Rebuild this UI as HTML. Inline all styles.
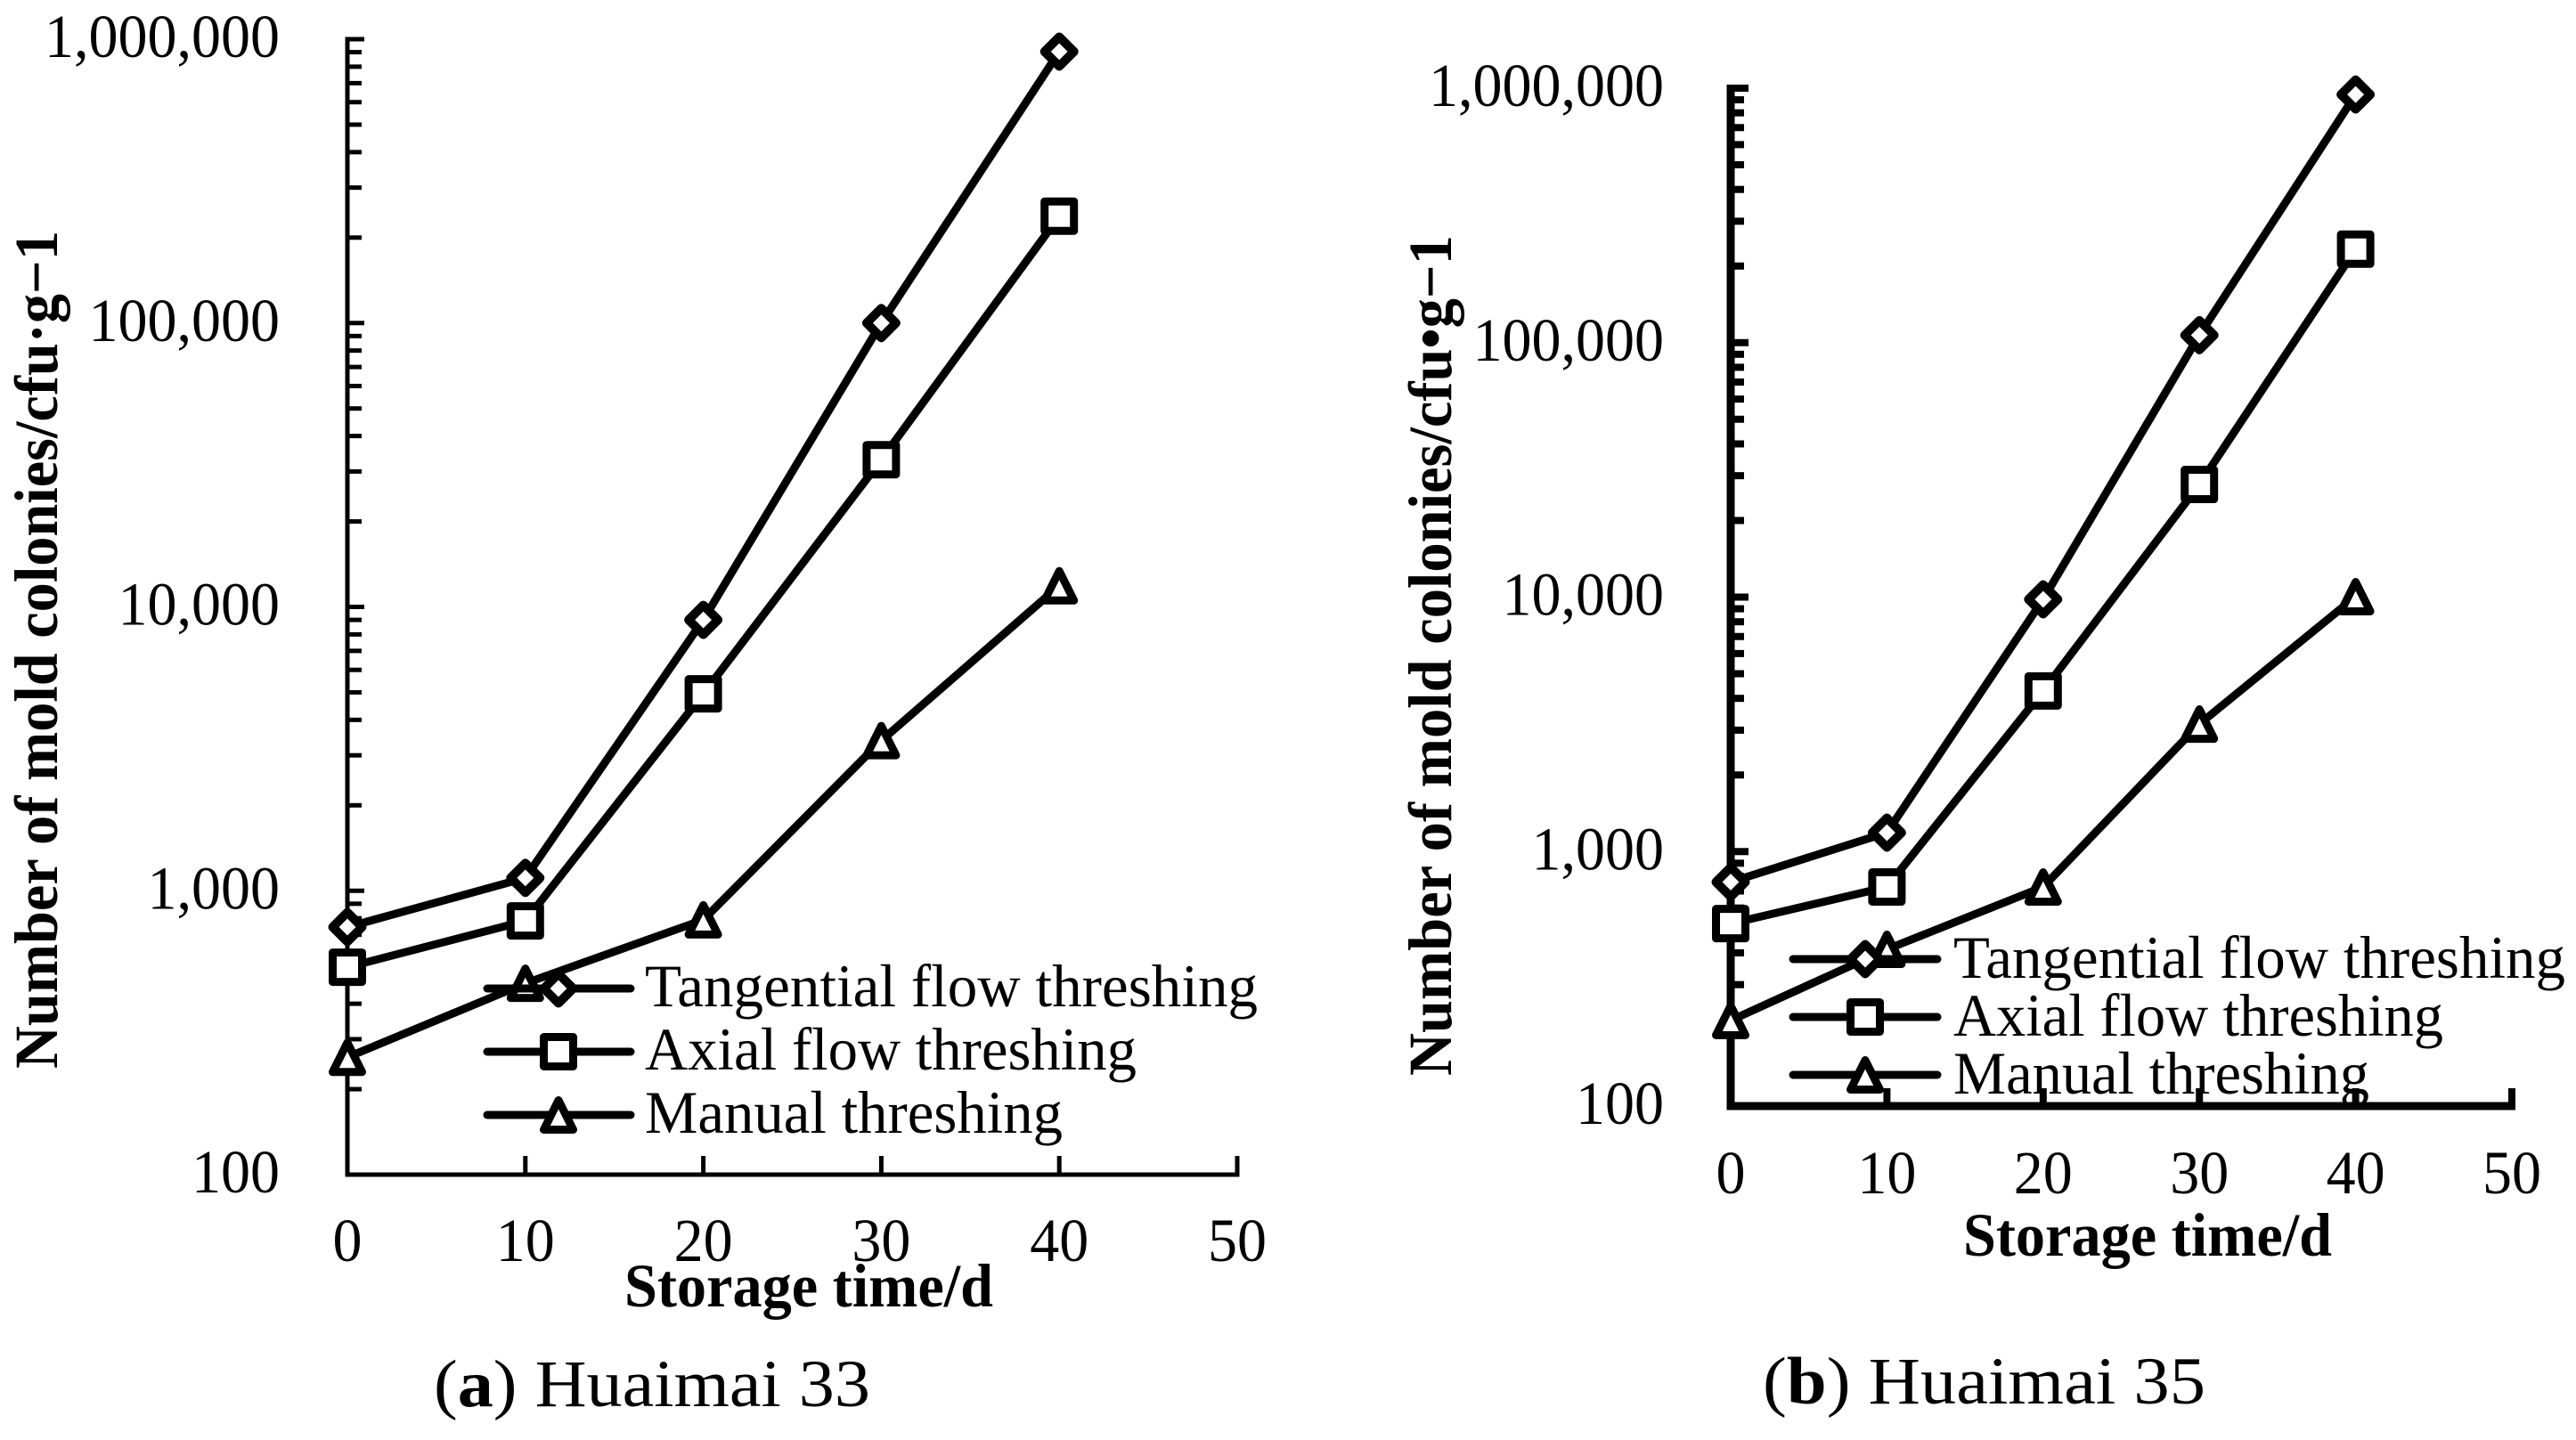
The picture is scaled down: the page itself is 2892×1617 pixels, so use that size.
<!DOCTYPE html>
<html lang="en">
<head>
<meta charset="utf-8">
<title>Mold colonies vs storage time</title>
<style>
html,body{margin:0;padding:0;background:#fff;}
svg{display:block;}
text{font-family:"Liberation Serif",serif;fill:#000;}
.tick{font-size:69px;}
.legend{font-size:68px;}
.title{font-size:69px;font-weight:bold;}
.caption{font-size:75px;}
</style>
</head>
<body>
<svg id="chart" xmlns="http://www.w3.org/2000/svg" width="2892" height="1617" viewBox="0 0 2892 1617">
  <rect width="2892" height="1617" fill="#fff"/>
  <g id="panel-a"></g>
  <g id="panel-b"></g>
  <g id="text-a">
    <text class="title" transform="translate(64,1200) rotate(-90)" textLength="941" lengthAdjust="spacingAndGlyphs">Number of mold colonies/cfu·g−1</text>
    <text class="title" x="701" y="1467" textLength="414" lengthAdjust="spacingAndGlyphs">Storage time/d</text>
    <text class="legend" x="724" y="1130" textLength="688" lengthAdjust="spacingAndGlyphs">Tangential flow threshing</text>
    <text class="legend" x="724" y="1201" textLength="552" lengthAdjust="spacingAndGlyphs">Axial flow threshing</text>
    <text class="legend" x="724" y="1272" textLength="469" lengthAdjust="spacingAndGlyphs">Manual threshing</text>
    <text class="caption" x="487" y="1579" textLength="490" lengthAdjust="spacingAndGlyphs">(<tspan font-weight="bold">a</tspan>) Huaimai 33</text>
  </g>
  <g id="text-b">
    <text class="title" transform="translate(1629,1208) rotate(-90)" textLength="944" lengthAdjust="spacingAndGlyphs">Number of mold colonies/cfu•g−1</text>
    <text class="title" x="2204" y="1410" textLength="414" lengthAdjust="spacingAndGlyphs">Storage time/d</text>
    <text class="legend" x="2193" y="1098" textLength="687" lengthAdjust="spacingAndGlyphs">Tangential flow threshing</text>
    <text class="legend" x="2193" y="1163" textLength="550" lengthAdjust="spacingAndGlyphs">Axial flow threshing</text>
    <text class="legend" x="2193" y="1228" textLength="467" lengthAdjust="spacingAndGlyphs">Manual threshing</text>
    <text class="caption" x="1979" y="1576" textLength="497" lengthAdjust="spacingAndGlyphs">(<tspan font-weight="bold">b</tspan>) Huaimai 35</text>
  </g>
</svg>
<script>
const storageDays = [0, 10, 20, 30, 40];
const xTickValues = [0, 10, 20, 30, 40, 50];
const yTickValues = [100, 1000, 10000, 100000, 1000000];
const yTickLabels = ["100", "1,000", "10,000", "100,000", "1,000,000"];
const minorMultipliers = [2, 3, 4, 5, 6, 7, 8, 9];

const tangentialA = [745, 1110, 9000, 100000, 904000];
const axialA = [538, 783, 4940, 33000, 238000];
const manualA = [259, 472, 790, 3380, 11870];

const tangentialB = [759, 1187, 9800, 107000, 944000];
const axialB = [521, 726, 4280, 27700, 233000];
const manualB = [217, 413, 726, 3170, 10040];

const NS = "http://www.w3.org/2000/svg";
const TICK_EM = 66;

function make(tag, attrs, parent) {
  const node = document.createElementNS(NS, tag);
  for (const k in attrs) node.setAttribute(k, attrs[k]);
  parent.appendChild(node);
  return node;
}

function labelWidth(str) {
  let em = 0;
  for (const ch of str) em += ch === "," ? 0.25 : 0.5;
  return em * TICK_EM;
}

function linearScale(d0, d1, r0, r1) {
  return function (v) { return r0 + (v - d0) / (d1 - d0) * (r1 - r0); };
}

function logScale(d0, d1, r0, r1) {
  return function (v) {
    return r0 + (Math.log10(v) - Math.log10(d0)) / (Math.log10(d1) - Math.log10(d0)) * (r1 - r0);
  };
}

function drawMarker(parent, kind, cx, cy) {
  let shape;
  let stroke = 9;
  if (kind === "diamond") {
    stroke = 10;
    shape = make("path", { d: "M" + cx + " " + (cy - 16.5) + "L" + (cx + 16.5) + " " + cy + "L" + cx + " " + (cy + 16.5) + "L" + (cx - 16.5) + " " + cy + "Z" }, parent);
  } else if (kind === "square") {
    shape = make("rect", { x: cx - 16.5, y: cy - 16.5, width: 33, height: 33 }, parent);
  } else {
    shape = make("path", { d: "M" + cx + " " + (cy - 16.5) + "L" + (cx + 16.5) + " " + (cy + 16.5) + "L" + (cx - 16.5) + " " + (cy + 16.5) + "Z" }, parent);
  }
  shape.setAttribute("fill", "#fff");
  shape.setAttribute("stroke", "#000");
  shape.setAttribute("stroke-width", stroke);
  shape.setAttribute("stroke-linejoin", "round");
  
  
}

function drawPanel(cfg) {
  const root = document.getElementById(cfg.id);
  const xS = linearScale(0, 50, cfg.x0, cfg.x50);
  const yS = logScale(100, 1000000, cfg.y100, cfg.yTop);

  const yAxis = make("line", { x1: cfg.x0, x2: cfg.x0, y1: yS(1000000) - cfg.tickW / 2, y2: yS(100) + cfg.axisW / 2, stroke: "#000", "stroke-width": cfg.axisW }, root);
  
  

  const xAxis = make("line", { x1: cfg.x0, x2: xS(50) + cfg.tickW / 2, y1: yS(100), y2: yS(100), stroke: "#000", "stroke-width": cfg.axisW }, root);
  
  

  yTickValues.forEach(function (v, i) {
    if (i > 0) {
      const major = make("line", { x1: cfg.x0, x2: cfg.x0 + cfg.majorLen, y1: yS(v), y2: yS(v), stroke: "#000", "stroke-width": cfg.tickW }, root);
      
      
    }
    if (i < yTickValues.length - 1) {
      minorMultipliers.forEach(function (m) {
        const minor = make("line", { x1: cfg.x0, x2: cfg.x0 + cfg.minorLen, y1: yS(v * m), y2: yS(v * m), stroke: "#000", "stroke-width": cfg.tickW }, root);
        
        
      });
    }
    const label = make("text", { class: "tick", x: cfg.yLabelX, y: yS(v) + 20, "text-anchor": "end", textLength: labelWidth(yTickLabels[i]), lengthAdjust: "spacingAndGlyphs" }, root);
    label.textContent = yTickLabels[i];
    
    
  });

  xTickValues.forEach(function (v) {
    const tick = make("line", { x1: xS(v), x2: xS(v), y1: yS(100), y2: yS(100) - cfg.xTickLen, stroke: "#000", "stroke-width": cfg.tickW }, root);
    
    
    const label = make("text", { class: "tick", x: xS(v), y: cfg.xLabelY, "text-anchor": "middle", textLength: labelWidth(String(v)), lengthAdjust: "spacingAndGlyphs" }, root);
    label.textContent = String(v);
    
    
  });

  cfg.series.forEach(function (s) {
    const pts = s.values.map(function (v, i) { return xS(storageDays[i]) + "," + yS(v); }).join(" ");
    const line = make("polyline", { points: pts, fill: "none", stroke: "#000", "stroke-width": 9, "stroke-linejoin": "round" }, root);
    
    
  });

  cfg.series.forEach(function (s) {
    s.values.forEach(function (v, i) {
      drawMarker(root, s.kind, xS(storageDays[i]), yS(v));
    });
  });

  cfg.series.forEach(function (s, i) {
    const ly = cfg.legendY[i];
    const handle = make("line", { x1: cfg.legendX0, x2: cfg.legendX1, y1: ly, y2: ly, stroke: "#000", "stroke-width": 9, "stroke-linecap": "round" }, root);
    
    
    drawMarker(root, s.kind, cfg.legendMark, ly);
  });
}

drawPanel({
  id: "panel-a", x0: 390, x50: 1389, y100: 1319, yTop: 44,
  axisW: 5, tickW: 5, majorLen: 19, minorLen: 16, xTickLen: 21,
  yLabelX: 314, xLabelY: 1416,
  legendX0: 547, legendX1: 708, legendMark: 627, legendY: [1110, 1181, 1252],
  series: [
    { name: "tangential-a", kind: "diamond", values: tangentialA },
    { name: "axial-a", kind: "square", values: axialA },
    { name: "manual-a", kind: "triangle", values: manualA }
  ]
});

drawPanel({
  id: "panel-b", x0: 1943, x50: 2820, y100: 1242, yTop: 99,
  axisW: 9, tickW: 8, majorLen: 20, minorLen: 15, xTickLen: 20,
  yLabelX: 1868, xLabelY: 1340,
  legendX0: 2013, legendX1: 2175, legendMark: 2094, legendY: [1077, 1142, 1207],
  series: [
    { name: "tangential-b", kind: "diamond", values: tangentialB },
    { name: "axial-b", kind: "square", values: axialB },
    { name: "manual-b", kind: "triangle", values: manualB }
  ]
});
</script>
</body>
</html>
